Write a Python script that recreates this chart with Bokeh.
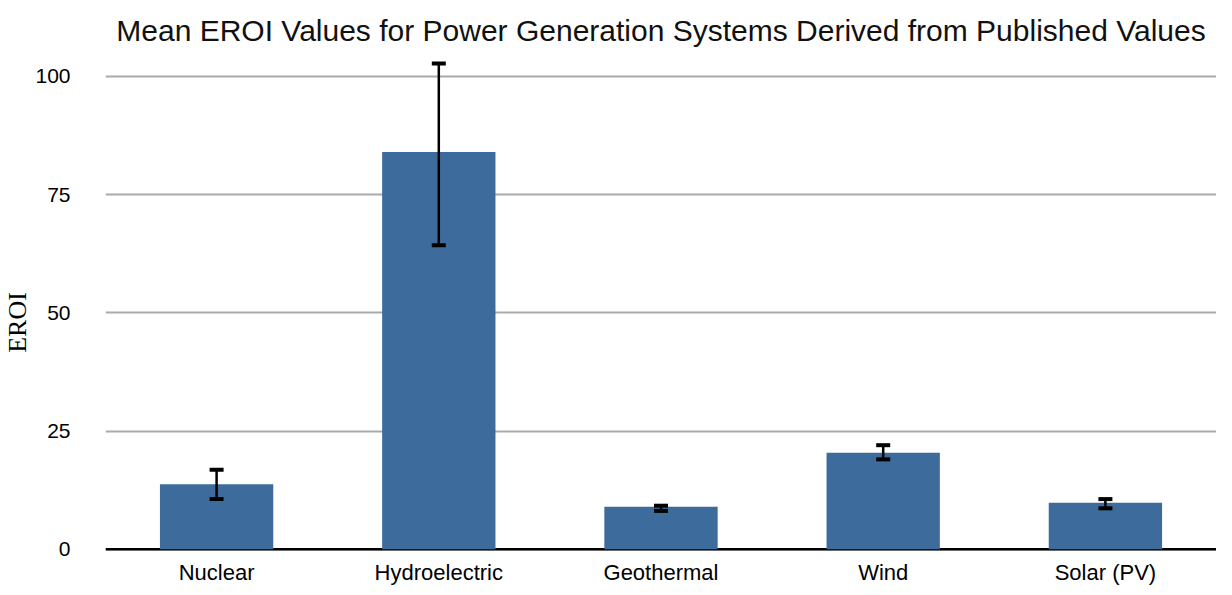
from bokeh.plotting import figure
from bokeh.models import (ColumnDataSource, FixedTicker, Whisker, TeeHead, FactorRange,
                          Range1d, LabelSet, Span)
from bokeh.core.properties import value
from bokeh.embed import file_html
from bokeh.resources import INLINE

categories = ["Nuclear", "Hydroelectric", "Geothermal", "Wind", "Solar (PV)"]
mean_eroi = [13.75, 84.0, 9.0, 20.4, 9.8]
err_lower = [10.6, 64.3, 8.1, 19.0, 8.65]
err_upper = [16.8, 102.75, 9.2, 22.0, 10.6]
y_ticks = [0, 25, 50, 75, 100]

source = ColumnDataSource(data=dict(cat=categories, mean=mean_eroi,
                                    lower=err_lower, upper=err_upper))

# the frame reaches below 0 so that the category labels can sit inside it
p = figure(width=1216, height=587, output_backend="svg", toolbar_location=None,
           x_range=FactorRange(*categories, range_padding=0),
           y_range=Range1d(-8.1, 104), x_axis_location=None,
           title="Mean EROI Values for Power Generation Systems Derived from Published Values",
           min_border_left=99, min_border_right=0, min_border_top=10, min_border_bottom=-9)

p.outline_line_color = None
p.background_fill_color = "white"

p.title.text_font = "Liberation Sans"
p.title.text_font_size = "30px"
p.title.text_font_style = "normal"
p.title.align = "center"
p.title.text_color = "#111111"
p.title.text_line_height = 1.0
p.title.standoff = 22

p.xgrid.grid_line_color = None
p.ygrid.grid_line_color = "#AAAAAA"
p.ygrid.grid_line_width = 2
p.ygrid.ticker = FixedTicker(ticks=y_ticks)

baseline = Span(location=0, dimension="width", line_color="black", line_width=2.5,
                level="underlay")
p.add_layout(baseline)

p.vbar(x="cat", top="mean", width=0.51, source=source,
       fill_color="#3D6B9C", line_color=None)

w = Whisker(base="cat", lower="lower", upper="upper", source=source,
            line_color="black", line_width=2.5, level="overlay",
            upper_head=TeeHead(size=14, line_width=4, line_color="black"),
            lower_head=TeeHead(size=14, line_width=4, line_color="black"))
p.add_layout(w)

cat_labels = LabelSet(x="cat", y=0, text="cat", source=source,
                      y_offset=-11, text_align="center", text_baseline="top",
                      text_font=value("Liberation Sans"), text_font_size=value("22px"),
                      text_color="black")
p.add_layout(cat_labels)

p.yaxis.ticker = FixedTicker(ticks=y_ticks)
p.yaxis.axis_line_color = None
p.yaxis.major_tick_line_color = None
p.yaxis.minor_tick_line_color = None
p.yaxis.major_tick_out = 0
p.yaxis.major_tick_in = 0
p.yaxis.minor_tick_out = 0
p.yaxis.major_label_standoff = 35
p.yaxis.major_label_text_font = "Liberation Sans"
p.yaxis.major_label_text_font_size = "21px"
p.yaxis.major_label_text_color = "black"
p.yaxis.axis_label = "EROI"
p.yaxis.axis_label_text_font = "Liberation Serif"
p.yaxis.axis_label_text_font_size = "26px"
p.yaxis.axis_label_text_font_style = "normal"
p.yaxis.axis_label_text_color = "black"
p.yaxis.axis_label_standoff = 0

open("out.html", "w").write(file_html(p, INLINE))
